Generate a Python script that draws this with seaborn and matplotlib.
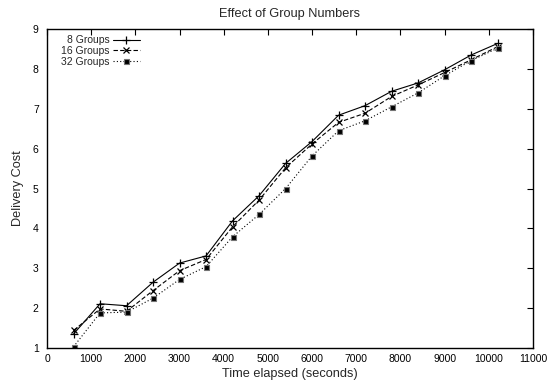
import matplotlib
matplotlib.use("Agg")
import matplotlib.pyplot as plt
import seaborn as sns
import pandas as pd

time_s = [600, 1200, 1800, 2400, 3000, 3600, 4200, 4800, 5400, 6000,
          6600, 7200, 7800, 8400, 9000, 9600, 10200]
groups8 = [1.35, 2.11, 2.06, 2.65, 3.13, 3.31, 4.19, 4.82, 5.63, 6.18,
           6.84, 7.08, 7.44, 7.65, 7.98, 8.35, 8.64]
groups16 = [1.44, 1.98, 1.92, 2.44, 2.94, 3.22, 4.04, 4.71, 5.52, 6.12,
            6.66, 6.89, 7.31, 7.60, 7.91, 8.23, 8.56]
groups32 = [1.03, 1.88, 1.90, 2.25, 2.72, 3.04, 3.79, 4.35, 5.00, 5.82,
            6.45, 6.70, 7.05, 7.40, 7.83, 8.21, 8.52]
labels = ["8 Groups", "16 Groups", "32 Groups"]
x_ticks = list(range(0, 11001, 1000))
y_ticks = list(range(1, 10))

sns.set_theme(style="white")
plt.rcParams['font.family'] = ['Liberation Sans', 'DejaVu Sans']

fig = plt.figure(figsize=(5.5, 3.83), dpi=100)
ax = fig.add_axes([0.0855, 0.0914, 0.8835, 0.8326])

styles = [
    dict(linestyle="-", marker="+", markersize=6, mew=0.9,
         markeredgecolor="black", markerfacecolor="black"),
    dict(linestyle=(0, (4, 2)), marker="x", markersize=4.5, mew=0.9,
         markeredgecolor="black", markerfacecolor="black"),
    dict(linestyle=(0, (1, 2)), marker="s", markersize=3.6, mew=0.8,
         markeredgecolor="0.45", markerfacecolor="black"),
]
for vals, lab, st in zip([groups8, groups16, groups32], labels, styles):
    df = pd.DataFrame({"t": time_s, "v": vals})
    sns.lineplot(data=df, x="t", y="v", ax=ax, color="black", linewidth=0.8,
                 label=lab, **st)

ax.set_xlim(0, 11000)
ax.set_ylim(1, 9)
ax.set_xticks(x_ticks)
ax.set_yticks(y_ticks)
ax.tick_params(direction="in", length=4, width=0.8, top=True, right=True,
               labelsize=7.5, colors="black")
ax.tick_params(axis="x", pad=4)
ax.tick_params(axis="y", pad=6)
for s in ax.spines.values():
    s.set_color("black")
    s.set_linewidth(1.0)
ax.set_xlabel("Time elapsed (seconds)", fontsize=9.2, labelpad=3)
ax.set_ylabel("Delivery Cost", fontsize=9.2, labelpad=6)
ax.set_title("Effect of Group Numbers", fontsize=9.2, pad=9)

leg = ax.legend(loc="upper right", markerfirst=False, frameon=False,
                fontsize=7.5, handlelength=2.6, handletextpad=0.3,
                labelspacing=0.05, borderaxespad=0, borderpad=0,
                bbox_to_anchor=(0.191, 0.98))

fig.savefig("out.png", dpi=100)
